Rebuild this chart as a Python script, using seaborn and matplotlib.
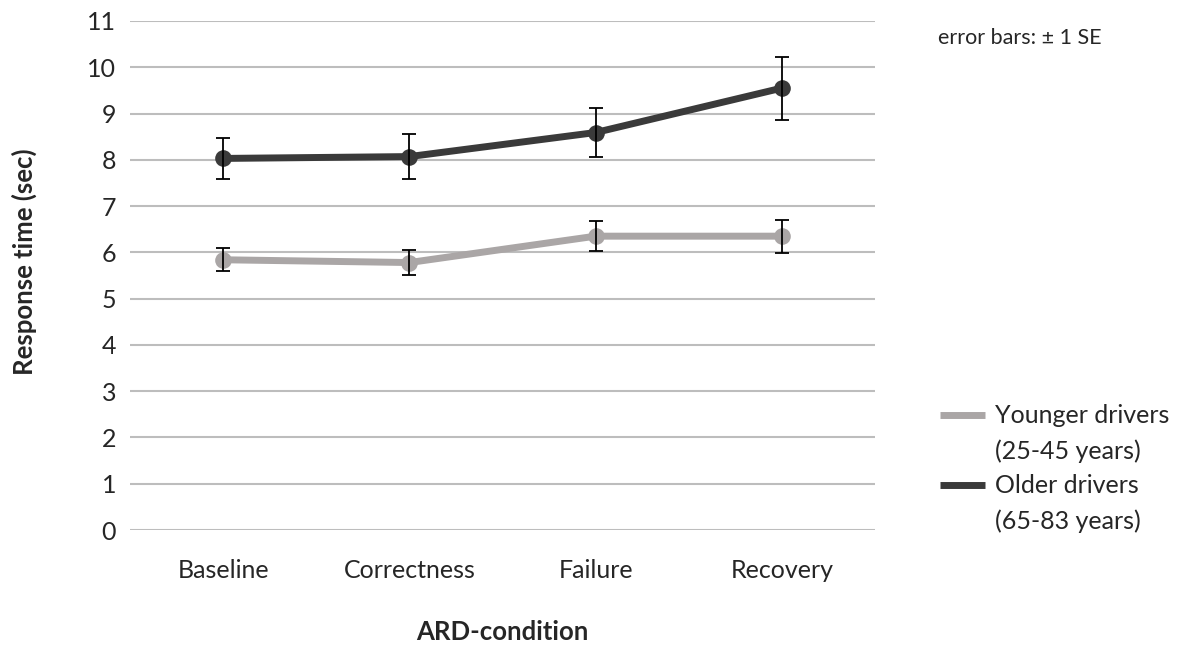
import pandas as pd
import numpy as np
import matplotlib.pyplot as plt
from matplotlib.lines import Line2D
import seaborn as sns

# Response times
conditions = ['Baseline', 'Correctness', 'Failure', 'Recovery']
groups = ['Younger drivers\n(25-45 years)', 'Older drivers\n(65-83 years)']
younger_mean = [5.84, 5.78, 6.35, 6.35]
younger_se = [0.25, 0.27, 0.32, 0.36]
older_mean = [8.03, 8.07, 8.59, 9.55]
older_se = [0.44, 0.48, 0.53, 0.68]

df = pd.DataFrame({
    'condition': conditions * 2,
    'group': [groups[0]] * 4 + [groups[1]] * 4,
    'rt': younger_mean + older_mean,
    'se': younger_se + older_se,
})

sns.set_style('white')
plt.rcParams['font.family'] = ['Lato', 'DejaVu Sans']

W, H = 1193, 646
fig = plt.figure(figsize=(W / 100, H / 100), dpi=100)
ax = fig.add_axes([130 / W, 1 - 530 / H, 745 / W, 509 / H])

palette = {groups[0]: '#aaa6a6', groups[1]: '#3a3a3a'}
sns.lineplot(data=df, x='condition', y='rt', hue='group', palette=palette,
             marker='o', markersize=12, markeredgewidth=0, linewidth=5,
             sort=False, ax=ax, zorder=3, legend=False)

xpos = np.arange(len(conditions))
for mean, se in [(younger_mean, younger_se), (older_mean, older_se)]:
    ax.errorbar(xpos, mean, yerr=se, fmt='none', ecolor='black',
                elinewidth=1.3, capsize=5, capthick=1.3, zorder=4)

ax.set_xlim(-0.5, 3.5)
ax.set_ylim(0, 11)
ax.set_yticks(range(0, 12))
ax.yaxis.grid(True, color='#bdbdbd', linewidth=1.5)
ax.set_axisbelow(True)
for s in ax.spines.values():
    s.set_visible(False)
ax.tick_params(axis='both', length=0, labelsize=18)
ax.tick_params(axis='y', pad=10)
ax.tick_params(axis='x', pad=21)

ax.set_xlabel('ARD-condition', fontsize=18.5, fontweight='bold', va='center')
ax.xaxis.set_label_coords((502 - 130) / 745, -(632 - 530) / 509)
ax.set_ylabel('Response time (sec)', fontsize=18.5, fontweight='bold',
              va='center')
ax.yaxis.set_label_coords(-(130 - 24) / 745, (530 - 262) / 509)

# legend drawn to match the reference layout: handle on the first text line
for grp, y in [(groups[0], 415), (groups[1], 485)]:
    fig.add_artist(Line2D([940 / W, 985 / W], [1 - y / H, 1 - y / H],
                          color=palette[grp], linewidth=5,
                          solid_capstyle='butt', transform=fig.transFigure))
    fig.text(995 / W, 1 - (y - 11) / H, grp, fontsize=18, va='top',
             linespacing=1.62)

fig.text(938 / W, 1 - 38 / H, 'error bars: \u00b1 1 SE', fontsize=15.5,
         va='center')

fig.savefig('out.png', dpi=100)
